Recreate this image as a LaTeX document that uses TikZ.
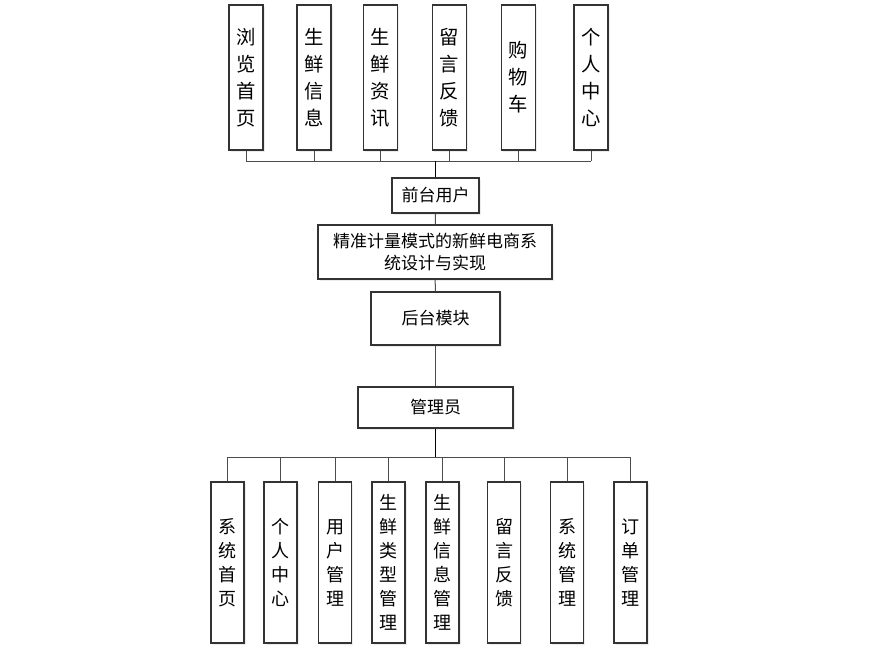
\documentclass[tikz,border=0pt]{standalone}
\usepackage{fontspec}
\setmainfont{Noto Sans CJK SC}
\usetikzlibrary{positioning,calc,shadows}

\begin{document}
\begin{tikzpicture}[x=0.75pt, y=-0.75pt,
    box/.style={rectangle, draw=black!80, line width=0.8pt, fill=white, align=center, inner sep=0pt, drop shadow={shadow xshift=1.4pt, shadow yshift=-1.4pt, fill=blue!20!black!15}},
    topcol/.style={box, minimum width=25.5pt, minimum height=108.75pt, font=\fontsize{14.5}{20.25}\selectfont},
    botcol/.style={box, minimum width=24.75pt, minimum height=120.75pt, font=\fontsize{13.5}{18}\selectfont},
    midbox/.style={box, font=\fontsize{12.75}{16.5}\selectfont},
    link/.style={draw=black!70, line width=0.75pt},
    trunk/.style={draw=black, line width=1.4pt}
]
    \useasboundingbox (0,0) rectangle (880,653);

    % front-end modules
    \node [topcol] (browse) at (246,77.5) {浏\\览\\首\\页};
    \node [topcol] (goods)  at (314,77.5) {生\\鲜\\信\\息};
    \node [topcol] (news)   at (380.5,77.5) {生\\鲜\\资\\讯};
    \node [topcol] (msg)    at (449.5,77.5) {留\\言\\反\\馈};
    \node [topcol] (cart)   at (518.5,77.5) {购\\物\\车};
    \node [topcol] (center) at (591,77.5) {个\\人\\中\\心};

    % main column
    \node [midbox, minimum width=65.25pt, minimum height=26.25pt] (front) at (435.5,195.5) {前台用户};
    \node [midbox, minimum width=175.5pt, minimum height=40.5pt] (sys) at (435,252) {精准计量模式的新鲜电商系\\统设计与实现};
    \node [midbox, minimum width=96.75pt, minimum height=39.75pt] (back) at (435.5,318.5) {后台模块};
    \node [midbox, minimum width=116.25pt, minimum height=30.75pt] (admin) at (435.5,407.5) {管理员};

    % back-end modules
    \node [botcol] (home)  at (227.5,562.5) {系\\统\\首\\页};
    \node [botcol] (mine)  at (280.5,562.5) {个\\人\\中\\心};
    \node [botcol] (users) at (335,562.5) {用\\户\\管\\理};
    \node [botcol] (kinds) at (388.5,562.5) {生\\鲜\\类\\型\\管\\理};
    \node [botcol] (items) at (442.5,562.5) {生\\鲜\\信\\息\\管\\理};
    \node [botcol] (notes) at (504,562.5) {留\\言\\反\\馈};
    \node [botcol] (setup) at (567,562.5) {系\\统\\管\\理};
    \node [botcol] (order) at (630.5,562.5) {订\\单\\管\\理};

    % bus lines
    \coordinate (topbus) at (436,161);
    \coordinate (botbus) at (436,457);

    \foreach \n in {browse,goods,news,msg,cart,center}
        \path [link] (\n.south) -- (\n.south |- topbus);
    \path [link] (browse.south |- topbus) -- (center.south |- topbus);
    \path [trunk] (front.north) -- (front.north |- topbus);

    \path [link] (front) -- (sys);
    \path [link] (sys) -- (back);
    \path [link] (back) -- (admin);

    \path [trunk] (admin.south) -- (admin.south |- botbus);
    \foreach \n in {home,mine,users,kinds,items,notes,setup,order}
        \path [link] (\n.north) -- (\n.north |- botbus);
    \path [link] (home.north |- botbus) -- (order.north |- botbus);
\end{tikzpicture}
\end{document}
